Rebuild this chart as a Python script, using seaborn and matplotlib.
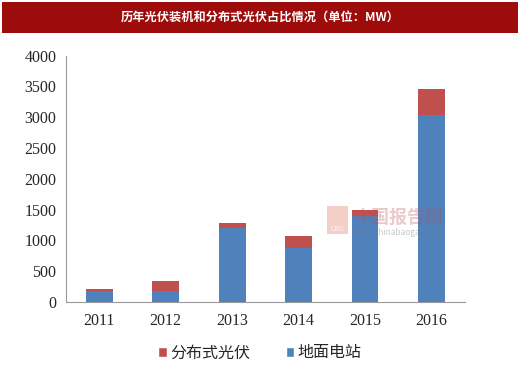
import matplotlib
matplotlib.use("Agg")
import matplotlib.pyplot as plt
import seaborn as sns
import pandas as pd
from matplotlib.patches import Patch, Rectangle

years = ["2011", "2012", "2013", "2014", "2015", "2016"]
ground = [175, 175, 1210, 875, 1400, 3030]       # 地面电站
distributed = [35, 175, 75, 190, 100, 425]       # 分布式光伏
yticks = [0, 500, 1000, 1500, 2000, 2500, 3000, 3500, 4000]

title = "历年光伏装机和分布式光伏占比情况（单位：MW）"
blue = "#4F81BD"
red = "#C0504D"

sns.set_style("white")
plt.rcParams['font.family'] = ['Noto Sans CJK SC', 'DejaVu Sans']

df = pd.DataFrame({"year": years, "ground": ground, "dist": distributed})
df["total"] = df["ground"] + df["dist"]

fig = plt.figure(figsize=(5.2, 3.73), dpi=100)
ax = fig.add_axes([0.127, 0.190, 0.767, 0.661])

sns.barplot(data=df, x="year", y="total", color=red, width=0.4, ax=ax,
            saturation=1, edgecolor="none")
sns.barplot(data=df, x="year", y="ground", color=blue, width=0.4, ax=ax,
            saturation=1, edgecolor="none")

ax.set_ylim(0, 4000)
ax.set_xlim(-0.5, 5.5)
ax.set_yticks(yticks)
ax.set_xlabel("")
ax.set_ylabel("")
for s in ["top", "right"]:
    ax.spines[s].set_visible(False)
for s in ["left", "bottom"]:
    ax.spines[s].set_color("#999999")
    ax.spines[s].set_linewidth(0.8)

# x ticks at category boundaries
ax.set_xticks(range(len(years)))
ax.set_xticklabels(years, family="Liberation Serif", fontsize=11.5)
ax.set_xticks([i - 0.5 for i in range(len(years) + 1)], minor=True)
ax.tick_params(axis="x", which="major", length=0, pad=8)
ax.tick_params(axis="x", which="minor", length=4, color="#999999", direction="out")
ax.tick_params(axis="y", length=4, color="#999999", direction="out", pad=3)
for lab in ax.get_yticklabels():
    lab.set_family("Liberation Serif")
    lab.set_fontsize(11.5)

# legend
handles = [Patch(facecolor=red, label="分布式光伏"), Patch(facecolor=blue, label="地面电站")]
fig.legend(handles=handles, loc="center", bbox_to_anchor=(0.5, 0.054), ncol=2,
           frameon=False, fontsize=11.5, handlelength=0.55, handleheight=0.55,
           handletextpad=0.2, columnspacing=2.2)

# title banner
fig.patches.append(Rectangle((0.004, 0.912), 0.992, 0.083, transform=fig.transFigure,
                             facecolor="#9E0B0B", edgecolor="none", zorder=0))
fig.text(0.5, 0.953, title, ha="center", va="center", color="white",
         fontsize=8.8, fontweight="bold")

# watermark
fig.patches.append(Rectangle((0.629, 0.372), 0.04, 0.075, transform=fig.transFigure,
                             facecolor="#E8A090", alpha=0.5, edgecolor="none", zorder=5))
fig.text(0.649, 0.385, "CBG", color="white", alpha=0.8, fontsize=5, ha="center", va="center",
         zorder=6)
fig.text(0.766, 0.418, "中国报告网", color="#C0504D", alpha=0.3, fontsize=13,
         fontweight="bold", ha="center", va="center", zorder=6)
fig.text(0.766, 0.378, "www.chinabaogao.com", color="#777777", alpha=0.4, fontsize=6,
         ha="center", va="center", zorder=6)

fig.savefig("out.png", dpi=100)
